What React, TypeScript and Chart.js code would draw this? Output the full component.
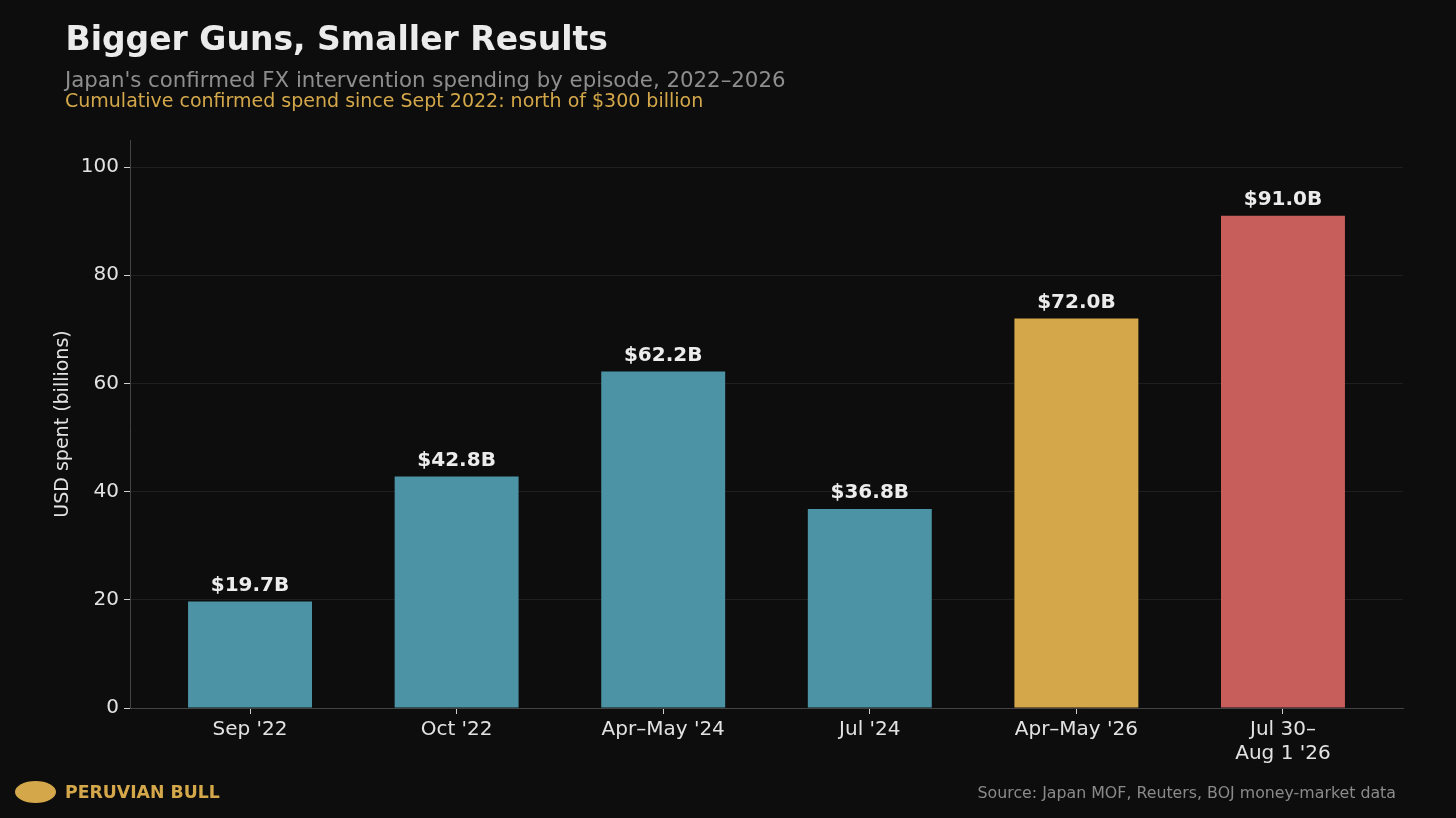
import React, { useEffect, useRef } from "react";
import { Chart, registerables } from "chart.js";

Chart.register(...registerables);

const categories: (string | string[])[] = ["Sep '22", "Oct '22", "Apr–May '24", "Jul '24", "Apr–May '26", ["Jul 30–", "Aug 1 '26"]];
const spendValues: number[] = [19.7, 42.8, 62.2, 36.8, 72.0, 91.0];
const valueLabels: string[] = ["$19.7B", "$42.8B", "$62.2B", "$36.8B", "$72.0B", "$91.0B"];
const barColors: string[] = ["#4c93a6", "#4c93a6", "#4c93a6", "#4c93a6", "#d4a84a", "#c85e5c"];
const yTickValues: number[] = [0, 20, 40, 60, 80, 100];

const BG = "#0d0d0d";
const TEXT = "#e2e2e2";

const valueLabelPlugin = {
  id: "valueLabels",
  afterDatasetsDraw(chart: any) {
    const ctx = chart.ctx;
    const meta = chart.getDatasetMeta(0);
    ctx.save();
    ctx.font = "bold 20px 'DejaVu Sans'";
    ctx.fillStyle = "#ececec";
    ctx.textAlign = "center";
    ctx.textBaseline = "alphabetic";
    meta.data.forEach((bar: any, i: number) => {
      ctx.fillText(valueLabels[i], bar.x, bar.y - 10.5);
    });
    ctx.restore();
  },
};

const yTitlePlugin = {
  id: "yTitle",
  afterDraw(chart: any) {
    const ctx = chart.ctx;
    const area = chart.chartArea;
    ctx.save();
    ctx.translate(63, (area.top + area.bottom) / 2);
    ctx.rotate(-Math.PI / 2);
    ctx.font = "19px 'DejaVu Sans'";
    ctx.fillStyle = TEXT;
    ctx.textAlign = "center";
    ctx.textBaseline = "middle";
    ctx.fillText("USD spent (billions)", 0, 0);
    ctx.restore();
  },
};

export default function App() {
  const canvasRef = useRef<HTMLCanvasElement | null>(null);

  useEffect(() => {
    document.body.style.margin = "0";
    document.body.style.background = BG;
    const canvas = canvasRef.current;
    if (!canvas) return;
    const chart = new Chart(canvas, {
      type: "bar",
      data: {
        datasets: [
          {
            data: spendValues.map((v, i) => ({ x: i, y: v })),
            backgroundColor: barColors,
            borderWidth: 0,
            barPercentage: 0.6,
            categoryPercentage: 1,
          },
        ],
      },
      options: {
        animation: false,
        responsive: false,
        devicePixelRatio: window.devicePixelRatio || 1,
        layout: { padding: { top: 140, right: 53, left: 0, bottom: 0 } },
        plugins: {
          legend: { display: false },
          tooltip: { enabled: false },
          title: { display: false },
        },
        scales: {
          x: {
            type: "linear",
            offset: false,
            min: -0.581,
            max: 5.581,
            afterBuildTicks: (scale: any) => {
              scale.ticks = categories.map((_, i) => ({ value: i }));
            },
            afterFit: (scale: any) => {
              scale.height = 110;
            },
            ticks: {
              autoSkip: false,
              maxRotation: 0,
              color: TEXT,
              font: { family: "'DejaVu Sans'", size: 20 },
              padding: 4,
              callback: (value: any) => categories[Math.round(Number(value))] as any,
            },
            grid: {
              offset: false,
              drawOnChartArea: false,
              drawTicks: true,
              tickLength: 6,
              tickColor: "#cfcfcf",
            },
            border: { display: true, color: "#444444", width: 1 },
          },
          y: {
            min: 0,
            max: 105,
            afterBuildTicks: (scale: any) => {
              scale.ticks = yTickValues.map((v) => ({ value: v }));
            },
            afterFit: (scale: any) => {
              scale.width = 130;
            },
            ticks: {
              color: TEXT,
              font: { family: "'DejaVu Sans'", size: 20 },
              padding: 5,
            },
            grid: {
              color: "#1f1f1f",
              lineWidth: 1,
              drawTicks: true,
              tickLength: 6,
              tickColor: "#cfcfcf",
            },
            border: { display: true, color: "#444444", width: 1 },
          },
        },
      },
      plugins: [valueLabelPlugin, yTitlePlugin],
    });
    return () => chart.destroy();
  }, []);

  const abs = (extra: React.CSSProperties): React.CSSProperties => ({
    position: "absolute",
    whiteSpace: "nowrap",
    margin: 0,
    ...extra,
  });

  return (
    <div
      style={{
        position: "fixed",
        left: 0,
        top: 0,
        width: 1456,
        height: 818,
        background: BG,
        overflow: "hidden",
      }}
    >
      <canvas
        ref={canvasRef}
        width={1456}
        height={818}
        style={{ position: "absolute", left: 0, top: 0, width: 1456, height: 818 }}
      />
      <div
        style={abs({
          left: 65.5,
          top: 19.6,
          fontFamily: "'DejaVu Sans'",
          fontWeight: 700,
          fontSize: 33,
          lineHeight: "38.4px",
          color: "#ebebeb",
        })}
      >
        Bigger Guns, Smaller Results
      </div>
      <div
        style={abs({
          left: 65,
          top: 68.2,
          fontFamily: "'DejaVu Sans'",
          fontSize: 21.3,
          lineHeight: "24.8px",
          color: "#8e8e8e",
        })}
      >
        Japan's confirmed FX intervention spending by episode, 2022–2026
      </div>
      <div
        style={abs({
          left: 65,
          top: 89.4,
          fontFamily: "'DejaVu Sans'",
          fontSize: 19,
          lineHeight: "22.1px",
          color: "#d4a84a",
        })}
      >
        Cumulative confirmed spend since Sept 2022: north of $300 billion
      </div>
      <div
        style={abs({
          left: 15,
          top: 781,
          width: 41,
          height: 22,
          borderRadius: "50%",
          background: "#d4a84a",
        })}
      />
      <div
        style={abs({
          left: 65,
          top: 782,
          fontFamily: "'DejaVu Sans'",
          fontWeight: 700,
          fontSize: 17.3,
          lineHeight: "20.1px",
          color: "#d4a84a",
        })}
      >
        PERUVIAN BULL
      </div>
      <div
        style={abs({
          right: 1456 - 1396,
          top: 784.3,
          fontFamily: "'DejaVu Sans'",
          fontSize: 15.8,
          lineHeight: "18.4px",
          color: "#8a8a8a",
        })}
      >
        Source: Japan MOF, Reuters, BOJ money-market data
      </div>
    </div>
  );
}
